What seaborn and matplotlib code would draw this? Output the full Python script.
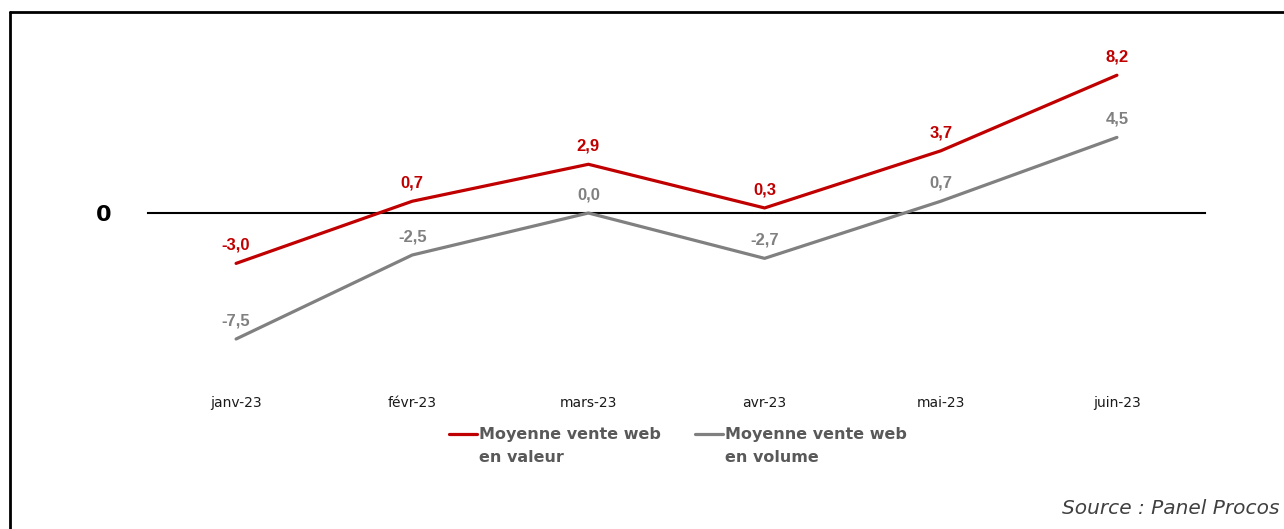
import matplotlib
matplotlib.use("Agg")
import matplotlib.pyplot as plt
from matplotlib.lines import Line2D
from matplotlib.legend_handler import HandlerLine2D
import numpy as np
import seaborn as sns
import pandas as pd

# Monthly evolution of average web sales (%)
months = ["janv-23", "févr-23", "mars-23", "avr-23", "mai-23", "juin-23"]
valeur = [-3.0, 0.7, 2.9, 0.3, 3.7, 8.2]
volume = [-7.5, -2.5, 0.0, -2.7, 0.7, 4.5]
series_names = ["Moyenne vente web\nen valeur", "Moyenne vente web\nen volume"]
series_colors = ["#C00000", "#808080"]
source_text = "Source : Panel Procos"

df = pd.DataFrame({
    "mois": months * 2,
    "x": list(range(len(months))) * 2,
    "val": valeur + volume,
    "serie": [series_names[0]] * len(months) + [series_names[1]] * len(months),
})

sns.set_style("white")
plt.rcParams["font.family"] = ["DejaVu Sans"]

W, H = 1284, 529
fig = plt.figure(figsize=(W / 100, H / 100), dpi=100)
ax_left, ax_right, ax_top, ax_bottom = 148, 1205, 30, 380
ax = fig.add_axes([ax_left / W, 1 - ax_bottom / H, (ax_right - ax_left) / W, (ax_bottom - ax_top) / H])

palette = dict(zip(series_names, series_colors))
sns.lineplot(data=df, x="x", y="val", hue="serie", palette=palette, lw=2.3,
             ax=ax, legend=False, sort=False)

px_per_unit = 16.8
ax.set_xlim(-0.5, len(months) - 0.5)
ax.set_ylim(-(ax_bottom - 213) / px_per_unit, (213 - ax_top) / px_per_unit)

# Zero axis with category boundary ticks
for s in ["top", "right", "left"]:
    ax.spines[s].set_visible(False)
ax.spines["bottom"].set_position(("data", 0))
ax.spines["bottom"].set_color("black")
ax.spines["bottom"].set_linewidth(1.5)
ax.spines["bottom"].set_zorder(1)

ax.set_xticks(range(len(months)))
ax.set_xticklabels(months, fontsize=10, color="#1a1a1a")
ax.set_xticks([i - 0.5 for i in range(len(months) + 1)], minor=True)
ax.tick_params(axis="x", which="major", length=0, pad=132)
ax.tick_params(axis="x", which="minor", length=3, color="#a0a0a0", width=1, direction="out")

ax.set_yticks([0])
ax.set_yticklabels(["0"], fontsize=16, fontweight="bold", color="black")
ax.tick_params(axis="y", length=0, pad=26)
ax.set_xlabel("")
ax.set_ylabel("")
ax.grid(False)

# Data labels above each point
for vals, color in zip([valeur, volume], series_colors):
    for i, v in enumerate(vals):
        ax.annotate(f"{v:.1f}".replace(".", ","), (i, v), xytext=(0, 13),
                    textcoords="offset points", ha="center", va="center",
                    fontsize=12, fontweight="bold", color=color,
                    family=["Liberation Sans", "DejaVu Sans"])


class FirstLineHandler(HandlerLine2D):
    """Legend line aligned with the first text line of a two-line label."""

    def create_artists(self, legend, orig_handle, xdescent, ydescent,
                       width, height, fontsize, trans):
        artists = super().create_artists(legend, orig_handle, xdescent, ydescent,
                                         width, height, fontsize, trans)
        for a in artists:
            a.set_ydata(np.asarray(a.get_ydata(), dtype=float) + fontsize * 0.78)
        return artists


# Legend below the axis
handles = [Line2D([0], [0], color=c, lw=2.3) for c in series_colors]
leg = fig.legend(handles, series_names, loc="upper center",
                 bbox_to_anchor=(678 / W, 1 - 413 / H), ncol=2, frameon=False,
                 handlelength=1.75, handletextpad=0.15, columnspacing=2.1,
                 prop={"size": 11.5, "weight": "bold"}, labelcolor="#595959",
                 handler_map={Line2D: FirstLineHandler()})
for t in leg.get_texts():
    t.set_linespacing(1.62)

fig.text(1280 / W, 1 - 508 / H, source_text, ha="right", va="center",
         fontsize=14.5, style="italic", color="#404040")

# Outer frame (top and left edges)
fig.add_artist(Line2D([10 / W, 10 / W], [0, 1 - 12 / H], color="black", lw=2,
                      transform=fig.transFigure))
fig.add_artist(Line2D([10 / W, 1], [1 - 12 / H, 1 - 12 / H], color="black", lw=2,
                      transform=fig.transFigure))

fig.savefig("out.png", dpi=100, facecolor="white")
